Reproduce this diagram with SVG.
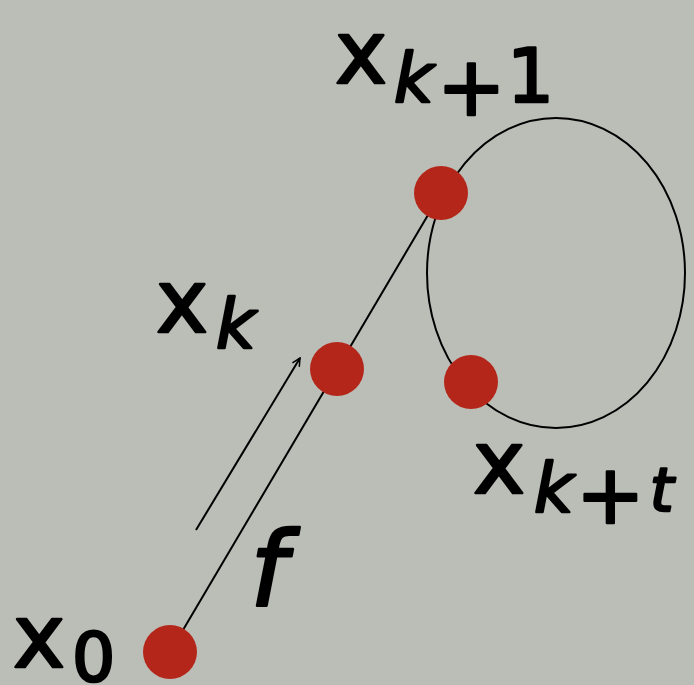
<svg xmlns="http://www.w3.org/2000/svg" width="694" height="685" viewBox="0 0 694 685">
<defs>
<style>
.bg{fill:#bbbdb7}
.dot{fill:#b5261a}
.ln{fill:none;stroke:#000;stroke-width:2}
.t{font-family:"DejaVu Sans",sans-serif;fill:#000;stroke:#000;stroke-width:2.6px;stroke-linejoin:round}
.x{font-size:88px}
.s{font-size:68px}
.p{font-size:82px}
.i{font-style:italic}
</style>
<marker id="ah" viewBox="0 0 10 10" refX="9" refY="5" markerWidth="10" markerHeight="10" markerUnits="userSpaceOnUse" orient="auto">
<path d="M1,1 L9,5 L1,9" fill="none" stroke="#000" stroke-width="1.5"/>
</marker>
</defs>
<rect class="bg" x="0" y="0" width="694" height="685"/>
<g id="connectors">
<line class="ln" x1="170" y1="652" x2="441" y2="193"/>
<ellipse class="ln" cx="556" cy="273" rx="129" ry="155"/>
<line class="ln" x1="196" y1="530" x2="300" y2="358" marker-end="url(#ah)"/>
</g>
<g id="x0">
<circle class="dot" cx="170" cy="652" r="27"/>
<text class="t x" x="13" y="667">x</text>
<text class="t s" x="72" y="681">0</text>
</g>
<g id="xk">
<circle class="dot" cx="337" cy="369" r="27"/>
<text class="t x" x="156" y="332">x</text>
<text class="t s i" x="216" y="348">k</text>
</g>
<g id="xk1">
<circle class="dot" cx="441" cy="193" r="27"/>
<text class="t x" x="335" y="83">x</text>
<text class="t s i" x="394" y="102">k</text>
<text class="t p" x="437" y="115">+</text>
<text class="t" style="font-size:74px" x="507" y="102">1</text>
</g>
<g id="xkt">
<circle class="dot" cx="471" cy="382" r="27"/>
<text class="t x" x="473" y="493">x</text>
<text class="t s i" x="534" y="512">k</text>
<text class="t p" x="576" y="523">+</text>
<text class="t i" style="font-size:60px" x="650" y="511">t</text>
</g>
<g id="f">
<text class="t i" style="font-size:104px" x="250" y="606">f</text>
</g>
</svg>
